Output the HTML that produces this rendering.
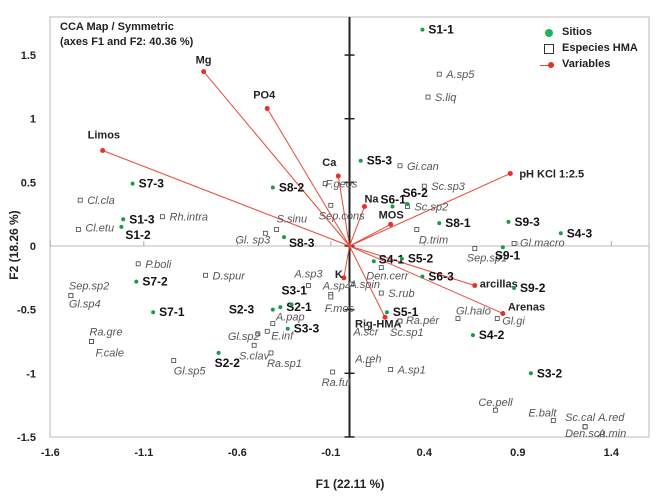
<!DOCTYPE html>
<html><head><meta charset="utf-8"><style>
body{margin:0;background:#fff;}
svg{display:block;font-family:"Liberation Sans",sans-serif;}
.site{font-weight:bold;font-size:12px;fill:#111;}
.sp{font-style:italic;font-size:11px;fill:#555;}
.var{font-weight:bold;font-size:11px;fill:#222;}
.tick{font-weight:bold;font-size:11px;fill:#222;}
</style></head><body>
<svg id="chart" width="662" height="497" viewBox="0 0 662 497"></svg>
<script>
const siteNames=["S1-1","S5-3","S6-2","S6-1","S8-1","S9-3","S4-3","S9-1","S7-3","S1-3","S1-2","S8-2","S8-3","S7-2","S7-1","S2-3","S2-1","S3-1","S3-3","S2-2","S4-1","S5-2","S6-3","S9-2","S5-1","S4-2","S3-2"];
const siteX=[0.39,0.06,0.31,0.23,0.48,0.85,1.13,0.82,-1.16,-1.21,-1.22,-0.41,-0.35,-1.14,-1.05,-0.41,-0.37,-0.31,-0.33,-0.70,0.13,0.28,0.39,0.88,0.20,0.66,0.97];
const siteY=[1.70,0.67,0.33,0.31,0.18,0.19,0.10,-0.01,0.49,0.21,0.15,0.46,0.07,-0.28,-0.52,-0.50,-0.48,-0.46,-0.65,-0.84,-0.12,-0.10,-0.24,-0.33,-0.52,-0.70,-1.00];
const varNames=["Mg","PO4","Limos","Ca","pH KCl 1:2.5","Na","MOS","K","Rig-HMA","arcillas","Arenas"];
const varX=[-0.78,-0.44,-1.32,-0.06,0.86,0.08,0.22,-0.03,0.19,0.67,0.82];
const varY=[1.37,1.08,0.75,0.55,0.57,0.31,0.17,-0.25,-0.56,-0.31,-0.53];
const spNames=["A.sp5","S.liq","Gi.can","Sc.sp3","Sc.sp2","D.trim","Gl.macro","Sep.sp1","Cl.cla","Cl.etu","Rh.intra","S.sinu","Gl. sp3","F.geos","Sep.cons","P.boli","D.spur","Sep.sp2","Gl.sp4","Ra.gre","F.cale","Gl.sp5","A.sp3","A.sp4","F.mos","A.pap","E.inf","Gl.sp2","S.clav","Ra.sp1","Ra.ful","A.spin","S.rub","Den.cerr","Ra.pér","Sc.sp1","A.scr","A.reh","A.sp1","Gl.halo","Gl.gi","Ce.pell","E.balt","Den.scu","Sc.cal","A.red","A.min"];
const spX=[0.48,0.42,0.27,0.40,0.31,0.36,0.88,0.67,-1.44,-1.45,-1.00,-0.39,-0.45,-0.13,-0.10,-1.13,-0.77,-1.49,-1.49,-1.38,-1.38,-0.94,-0.22,-0.10,-0.10,-0.41,-0.44,-0.49,-0.51,-0.42,-0.09,0.01,0.17,0.17,0.27,0.27,0.09,0.10,0.22,0.58,0.79,0.78,1.09,1.26,1.26,1.26,1.26];
const spY=[1.35,1.17,0.63,0.47,0.31,0.13,0.02,-0.02,0.36,0.13,0.23,0.13,0.10,0.49,0.32,-0.14,-0.23,-0.39,-0.39,-0.75,-0.75,-0.90,-0.31,-0.38,-0.40,-0.61,-0.67,-0.69,-0.78,-0.84,-0.99,-0.30,-0.37,-0.17,-0.59,-0.59,-0.64,-0.93,-0.97,-0.57,-0.57,-1.29,-1.37,-1.42,-1.42,-1.42,-1.42];
const xTicks=[-1.6,-1.1,-0.6,-0.1,0.4,0.9,1.4];
const yTicks=[1.5,1,0.5,0,-0.5,-1,-1.5];

const siteOff={"S6-1":[-12,-3],"S6-2":[-5,-7],"S1-2":[4,12],"S2-3":[-44,4],"S3-1":[-10,-10],"S2-2":[-4,14],"S4-1":[5,2],"S8-3":[5,10],"S9-1":[-8,12]};
const spOff={"Cl.cla":[7,4],"Cl.etu":[7,2],"S.sinu":[0,-7],"Gl. sp3":[-30,10],"F.geos":[0,4],"Sep.cons":[-12,14],"D.trim":[2,14],"Sep.sp1":[-8,13],"Gl.macro":[6,3],"Sep.sp2":[-2,-6],"Gl.sp4":[-2,12],"Ra.gre":[-2,-6],"F.cale":[4,15],"Gl.sp5":[0,14],"A.sp3":[-14,-8],"A.sp4":[-8,-5],"F.mos":[-6,15],"A.pap":[3,-3],"E.inf":[4,8],"Gl.sp2":[-30,6],"S.clav":[-15,14],"Ra.sp1":[-4,14],"Ra.ful":[-11,14],"A.spin":[-2,4],"Den.cerr":[-15,12],"Ra.pér":[6,3],"Sc.sp1":[-10,15],"A.scr":[-13,8],"A.reh":[-13,-2],"Gl.halo":[-2,-4],"Gl.gi":[5,6],"Ce.pell":[-17,-4],"E.balt":[-25,-4],"Den.scu":[-20,10],"Sc.cal":[-20,-6],"A.red":[13,-6],"A.min":[13,10]};
const varOff={"Mg":[-8,-8],"PO4":[-14,-10],"Limos":[-15,-12],"Ca":[-16,-10],"pH KCl 1:2.5":[9,4],"Na":[0,-4],"MOS":[-12,-6],"K":[-9,0],"Rig-HMA":[-30,10],"arcillas":[5,2],"Arenas":[5,-3]};

const L=50,R=649,T=17,B=437;
const X=v=>349.5+v*187;
const Y=v=>246-v*127.3;
const svg=document.getElementById('chart');
const NS='http://www.w3.org/2000/svg';
function mk(tag,attrs,parent){const e=document.createElementNS(NS,tag);for(const k in attrs)e.setAttribute(k,attrs[k]);(parent||svg).appendChild(e);return e;}

let e=mk('rect',{x:L,y:T,width:R-L,height:B-T,fill:'#fff',stroke:'#bbb','stroke-width':1});


e=mk('line',{x1:L,x2:R,y1:Y(0),y2:Y(0),stroke:'#bbb','stroke-width':1});


xTicks.forEach(t=>{
  let l=mk('line',{x1:X(t),x2:X(t),y1:Y(0)-5,y2:Y(0),stroke:'#aaa'});
  
  
  let tx=mk('text',{x:X(t),y:456,'text-anchor':'middle',class:'tick'});tx.textContent=t;
  
  
});
e=mk('line',{x1:X(0),x2:X(0),y1:T,y2:B,stroke:'#222','stroke-width':2});


yTicks.forEach(t=>{
  let l=mk('line',{x1:X(0)-5,x2:X(0)+5,y1:Y(t),y2:Y(t),stroke:'#222','stroke-width':1.5});
  
  
  let tx=mk('text',{x:36,y:Y(t)+4,'text-anchor':'end',class:'tick'});tx.textContent=t;
  
  
});
varNames.forEach((n,i)=>{
  const g=mk('g',{});
  
  
  mk('line',{x1:X(0),y1:Y(0),x2:X(varX[i]),y2:Y(varY[i]),stroke:'#e84a3a','stroke-width':1},g);
  mk('circle',{cx:X(varX[i]),cy:Y(varY[i]),r:2.5,fill:'#e8302a'},g);
  const o=varOff[n]||[5,3];
  const t=mk('text',{x:X(varX[i])+o[0],y:Y(varY[i])+o[1],class:'var'},g);t.textContent=n;
});
spNames.forEach((n,i)=>{
  const g=mk('g',{});
  
  
  mk('rect',{x:X(spX[i])-2,y:Y(spY[i])-2,width:4,height:4,fill:'#fff',stroke:'#444','stroke-width':0.8},g);
  const o=spOff[n]||[7,4];
  const t=mk('text',{x:X(spX[i])+o[0],y:Y(spY[i])+o[1],class:'sp'},g);t.textContent=n;
});
siteNames.forEach((n,i)=>{
  const g=mk('g',{});
  
  
  mk('circle',{cx:X(siteX[i]),cy:Y(siteY[i]),r:2,fill:'#1a9a48'},g);
  const o=siteOff[n]||[6,4];
  const t=mk('text',{x:X(siteX[i])+o[0],y:Y(siteY[i])+o[1],class:'site'},g);t.textContent=n;
});
</script>
<div style="position:absolute;left:0;top:0;width:662px;height:497px;pointer-events:none;font-family:'Liberation Sans',sans-serif;">
 <div style="position:absolute;left:60px;top:20px;font-size:11px;font-weight:bold;color:#222;line-height:15px;">CCA Map / Symmetric<br>(axes F1 and F2: 40.36 %)</div>
 <div style="position:absolute;left:542px;top:26px;font-size:11px;font-weight:bold;color:#222;">
  <div style="height:16px;position:relative;"><span style="position:absolute;left:3px;top:3px;width:8px;height:8px;border-radius:50%;background:#1fb55a;"></span><span style="position:absolute;left:20px;top:0;">Sitios</span></div>
  <div style="height:16px;position:relative;"><span style="position:absolute;left:2px;top:2px;width:8px;height:8px;border:1px solid #333;"></span><span style="position:absolute;left:20px;top:0;white-space:nowrap;">Especies HMA</span></div>
  <div style="height:16px;position:relative;"><span style="position:absolute;left:-2px;top:7px;width:14px;height:1px;background:#e84a3a;"></span><span style="position:absolute;left:6px;top:4px;width:6px;height:6px;border-radius:50%;background:#e8302a;"></span><span style="position:absolute;left:20px;top:0;">Variables</span></div>
 </div>
 <div style="position:absolute;left:300px;top:477px;width:100px;text-align:center;font-size:12px;font-weight:bold;color:#222;">F1 (22.11 %)</div>
 <div style="position:absolute;left:-36px;top:238px;width:100px;text-align:center;font-size:12px;font-weight:bold;color:#222;transform:rotate(-90deg);">F2 (18.26 %)</div>
</div>
</body></html>
